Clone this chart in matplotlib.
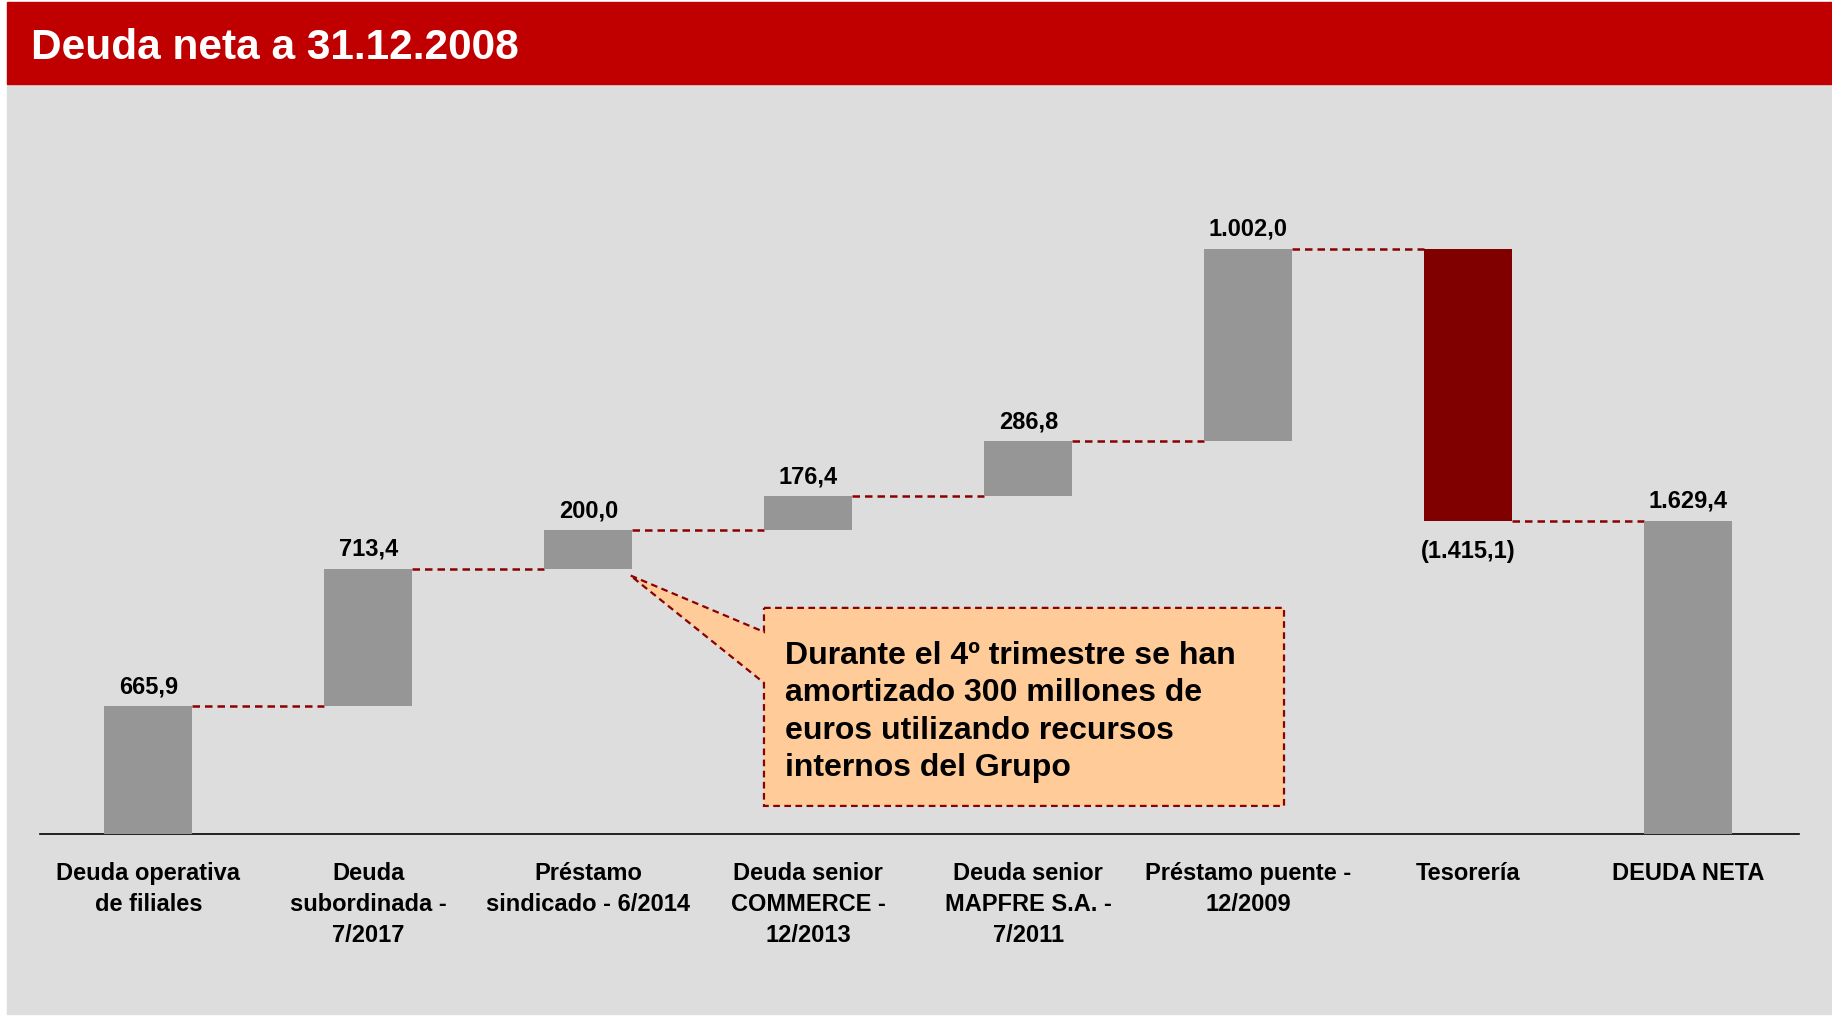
import matplotlib.pyplot as plt
from matplotlib.patches import Rectangle, Polygon

plt.rcParams['font.family'] = ['Liberation Sans', 'DejaVu Sans']

categories = ['Deuda operativa\nde filiales', 'Deuda\nsubordinada -\n7/2017',
              'Préstamo\nsindicado - 6/2014', 'Deuda senior\nCOMMERCE -\n12/2013',
              'Deuda senior\nMAPFRE S.A. -\n7/2011', 'Préstamo puente -\n12/2009',
              'Tesorería', 'DEUDA NETA']
values = [665.9, 713.4, 200.0, 176.4, 286.8, 1002.0, -1415.1, 1629.4]
is_total = [False, False, False, False, False, False, False, True]
note = ('Durante el 4º trimestre se han\namortizado 300 millones de\n'
        'euros utilizando recursos\ninternos del Grupo')

GREY = '#969696'
NEG = '#800000'
DASH = '#8B0000'


def fmt(v):
    s = '{:,.1f}'.format(abs(v)).replace(',', 'X').replace('.', ',').replace('X', '.')
    return '(' + s + ')' if v < 0 else s


fig = plt.figure(figsize=(18.32, 10.16), dpi=100)
W, H = 1832, 1016
# background panel + title band
fig.patches.append(Rectangle((7 / W, 2 / H), 1 - 7 / W, 1 - 86 / H,
                             transform=fig.transFigure, color='#DDDDDD', zorder=-2))
fig.patches.append(Rectangle((7 / W, 1 - 84 / H), 1 - 7 / W, 82 / H,
                             transform=fig.transFigure, color='#C00000', zorder=-2))
fig.text(31 / W, 1 - 59 / H, 'Deuda neta a 31.12.2008', color='white',
         fontsize=30.5, fontweight='bold', va='baseline', ha='left')

ax = fig.add_axes([40 / W, 182 / H, 1759 / W, 673 / H])
ax.set_facecolor('none')
bw = 0.4

cum = 0
bottoms, heights = [], []
for v, t in zip(values, is_total):
    if t:
        bottoms.append(0)
        heights.append(v)
        cum = v
    else:
        bottoms.append(cum if v > 0 else cum + v)
        heights.append(abs(v))
        cum += v
levels = []
c = 0
for v, t in zip(values, is_total):
    c = v if t else c + v
    levels.append(c)

colors = [NEG if v < 0 else GREY for v in values]
x = list(range(len(values)))
ax.bar(x, heights, bottom=bottoms, width=bw, color=colors, zorder=3)

for i in range(len(values) - 1):
    ax.plot([i + bw / 2, i + 1 - bw / 2], [levels[i], levels[i]], color=DASH,
            lw=1.8, ls=(0, (3, 2)), zorder=2)

for i, v in enumerate(values):
    if v >= 0:
        ax.annotate(fmt(v), (i, bottoms[i] + heights[i]), xytext=(0, 14),
                    textcoords='offset points', ha='center', va='center',
                    fontsize=17, fontweight='bold')
    else:
        ax.annotate(fmt(v), (i, bottoms[i]), xytext=(0, -22),
                    textcoords='offset points', ha='center', va='center',
                    fontsize=17, fontweight='bold')

# callout
x0, x1, yb, yt = 2.798, 5.162, 146, 1176
tip = (2 + bw / 2 - 0.01, 1345)
pts = [(x0, yt), (x1, yt), (x1, yb), (x0, yb), (x0, 786), tip, (x0, 1051), (x0, yt)]
ax.add_patch(Polygon(pts, closed=True, facecolor='#FFCC99', edgecolor=DASH,
                     lw=1.6, ls=(0, (3, 2)), zorder=4))
ax.text(2.894, 634, note, ha='left', va='center', fontsize=23, fontweight='bold',
        linespacing=1.33, zorder=5)

ax.set_xlim(-0.493, 7.503)
ax.set_ylim(0, 3500)
for s in ['top', 'left', 'right']:
    ax.spines[s].set_visible(False)
ax.spines['bottom'].set_linewidth(1.2)
ax.set_yticks([])
ax.set_xticks(x, categories, fontsize=17, fontweight='bold', linespacing=1.46)
ax.tick_params(axis='x', length=0, pad=20)

fig.savefig('out.png', dpi=100)
